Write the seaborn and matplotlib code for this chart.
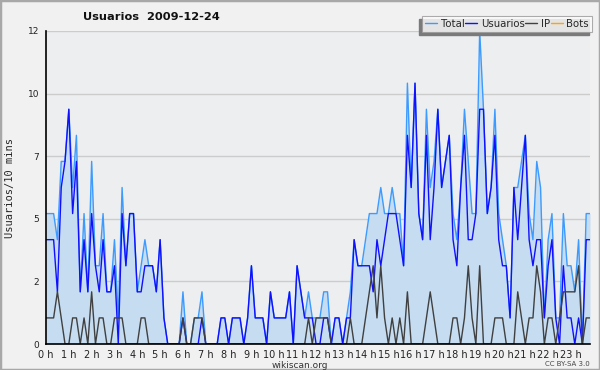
import pandas as pd
import matplotlib
matplotlib.use("Agg")
import matplotlib.pyplot as plt
import seaborn as sns
from matplotlib.patches import Rectangle
from matplotlib.lines import Line2D

# valeurs par tranche de 10 minutes (0 h 00 -> 23 h 50)
total = [5, 5, 5, 4, 7, 7, 9, 6, 8, 2, 5, 2, 7, 3, 3, 5, 2, 2, 4, 1, 6, 3, 5, 5,
         2, 3, 4, 3, 3, 2, 4, 1, 0, 0, 0, 0, 2, 0, 0, 1, 1, 2, 0, 0, 0, 0, 1, 1,
         0, 1, 1, 1, 0, 1, 3, 1, 1, 1, 0, 2, 1, 1, 1, 1, 2, 0, 3, 2, 1, 2, 1, 1,
         1, 2, 2, 0, 1, 1, 0, 1, 2, 4, 3, 3, 4, 5, 5, 5, 6, 5, 5, 6, 5, 5, 3, 10,
         6, 10, 5, 4, 9, 6, 7, 9, 6, 7, 8, 5, 4, 6, 9, 7, 5, 5, 12, 9, 5, 6, 9, 5,
         4, 3, 1, 6, 6, 7, 8, 5, 4, 7, 6, 1, 4, 5, 1, 1, 5, 3, 3, 2, 4, 0, 5, 5]
usuarios = [4, 4, 4, 2, 6, 7, 9, 5, 7, 2, 4, 2, 5, 3, 2, 4, 2, 2, 3, 0, 5, 3, 5, 5,
            2, 2, 3, 3, 3, 2, 4, 1, 0, 0, 0, 0, 1, 0, 0, 0, 0, 1, 0, 0, 0, 0, 1, 1,
            0, 1, 1, 1, 0, 1, 3, 1, 1, 1, 0, 2, 1, 1, 1, 1, 2, 0, 3, 2, 1, 1, 1, 0,
            0, 1, 1, 0, 1, 1, 0, 1, 1, 4, 3, 3, 3, 3, 2, 4, 3, 4, 5, 5, 5, 4, 3, 8,
            6, 10, 5, 4, 8, 4, 6, 9, 6, 7, 8, 4, 3, 6, 8, 4, 4, 5, 9, 9, 5, 6, 8, 4,
            3, 3, 1, 6, 4, 6, 8, 4, 3, 4, 4, 1, 3, 4, 1, 0, 3, 1, 1, 0, 1, 0, 4, 4]
ip = [1, 1, 1, 2, 1, 0, 0, 1, 1, 0, 1, 0, 2, 0, 1, 1, 0, 0, 1, 1, 1, 0, 0, 0,
      0, 1, 1, 0, 0, 0, 0, 0, 0, 0, 0, 0, 1, 0, 0, 1, 1, 1, 0, 0, 0, 0, 0, 0,
      0, 0, 0, 0, 0, 0, 0, 0, 0, 0, 0, 0, 0, 0, 0, 0, 0, 0, 0, 0, 0, 1, 0, 1,
      1, 1, 1, 0, 0, 0, 0, 0, 1, 0, 0, 0, 1, 2, 3, 1, 3, 1, 0, 1, 0, 1, 0, 2,
      0, 0, 0, 0, 1, 2, 1, 0, 0, 0, 0, 1, 1, 0, 1, 3, 1, 0, 3, 0, 0, 0, 1, 1,
      1, 0, 0, 0, 2, 1, 0, 1, 1, 3, 2, 0, 1, 1, 0, 1, 2, 2, 2, 2, 3, 0, 1, 1]
bots = [0] * 144
hour_labels = [f"{h} h" for h in range(24)]

df = pd.DataFrame({"t": range(len(total)), "Total": total, "Usuarios": usuarios,
                   "IP": ip, "Bots": bots})

colors = {"Total": "#3d9bff", "Usuarios": "#1010ff", "IP": "#404040", "Bots": "#ffa500"}

sns.set_style("white")
plt.rcParams["font.family"] = ["DejaVu Sans"]

fig = plt.figure(figsize=(6, 3.7), dpi=100, facecolor="#f1f1f1")
ax = fig.add_axes([46 / 600, 1 - 344 / 370, 544 / 600, 313 / 370])
ax.set_facecolor("#eceef0")

ax.fill_between(df["t"], df["Total"], 0, color="#c6dcf0", lw=0, zorder=1)
sns.lineplot(data=df, x="t", y="Bots", color=colors["Bots"], lw=1, ax=ax, zorder=1)
sns.lineplot(data=df, x="t", y="Total", color=colors["Total"], lw=1, ax=ax, zorder=3)
sns.lineplot(data=df, x="t", y="Usuarios", color=colors["Usuarios"], lw=1, ax=ax, zorder=4)
sns.lineplot(data=df, x="t", y="IP", color=colors["IP"], lw=1, ax=ax, zorder=5)

ax.set_xlim(0, 143)
ax.set_ylim(0, 12)
yt = [0, 2.4, 4.8, 7.2, 9.6, 12]
ax.set_yticks(yt)
ax.set_yticklabels([str(round(v)) for v in yt])
ax.set_yticks([i * 0.6 for i in range(21)], minor=True)
ax.set_xticks(range(0, 144, 6))
ax.set_xticklabels(hour_labels)
ax.set_xticks(range(0, 144), minor=True)
ax.yaxis.grid(True, color="#cccccc", lw=1)
ax.set_axisbelow(True)

for s in ["top", "right"]:
    ax.spines[s].set_visible(False)
for s in ["left", "bottom"]:
    ax.spines[s].set_color("black")
    ax.spines[s].set_linewidth(1.2)
    ax.spines[s].set_zorder(6)

ax.tick_params(axis="both", which="major", length=4, width=1, color="black",
               labelsize=7, pad=0, labelcolor="#222222")
ax.tick_params(axis="y", which="major", labelsize=6.5, pad=1)
ax.tick_params(axis="both", which="minor", length=2.5, width=1, color="black")
for lab in ax.get_xticklabels():
    lab.set_horizontalalignment("center")

ax.set_xlabel("")
ax.set_ylabel("Usuarios/10 mins", family="DejaVu Sans Mono", fontsize=7.5, labelpad=9)

fig.text(151 / 600, 1 - 17 / 370, "Usuarios  2009-12-24", ha="center", va="center",
         fontsize=8.2, fontweight="bold", color="#111111")
fig.text(300 / 600, 1 - 365 / 370, "wikiscan.org", ha="center", va="center",
         fontsize=6.5, color="#333333")
fig.text(590 / 600, 1 - 364 / 370, "CC BY-SA 3.0", ha="right", va="center",
         fontsize=5, color="#444444")

handles = [Line2D([], [], color=colors[k], lw=1) for k in ["Total", "Usuarios", "IP", "Bots"]]
leg = fig.legend(handles, ["Total", "Usuarios", "IP", "Bots"], loc="upper right",
                 bbox_to_anchor=(592 / 600, 1 - 16 / 370), ncol=4, fontsize=7.3,
                 frameon=True, fancybox=False, shadow=False,
                 handlelength=1.2, handletextpad=0.35, columnspacing=0.05,
                 borderpad=0.3, borderaxespad=0)
leg.get_frame().set_edgecolor("#999999")
leg.get_frame().set_facecolor("white")
leg.get_frame().set_linewidth(0.8)
leg.set_zorder(10)

# ombre de la légende, décalée vers la gauche et le bas
fig.canvas.draw()
bb = leg.get_window_extent().transformed(fig.transFigure.inverted())
fig.patches.append(Rectangle((bb.x0 - 3 / 600, bb.y0 - 3 / 370), bb.width, bb.height,
                             transform=fig.transFigure, color="#7a7a7a", zorder=9))

fig.patches.append(Rectangle((0, 0), 1, 1, transform=fig.transFigure, fill=False,
                             edgecolor="#a8a8a8", lw=2.5))

fig.savefig("out.png", dpi=100, facecolor=fig.get_facecolor())
